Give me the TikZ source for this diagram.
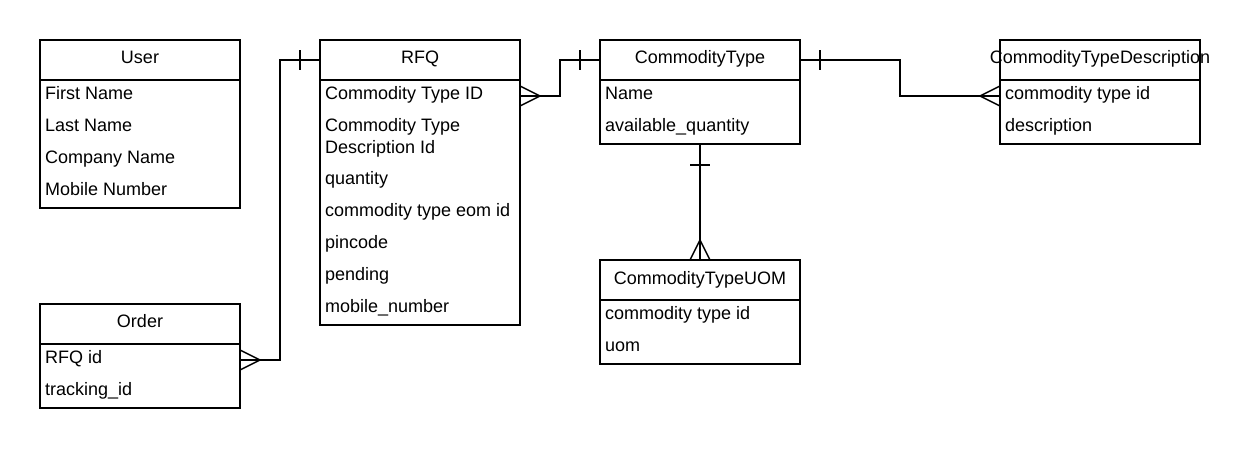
\documentclass[tikz,border=0pt]{standalone}
\usepackage{fontspec}
\setmainfont{Liberation Sans}
\pgfdeclarelayer{edgelayer}
\pgfdeclarelayer{nodelayer}
\pgfsetlayers{edgelayer,nodelayer,main}
\tikzstyle{none}=[inner sep=0pt]
\tikzstyle{title}=[inner sep=0pt,anchor=base,font=\fontsize{18}{22}\selectfont]
\tikzstyle{field}=[inner sep=0pt,anchor=base west,font=\fontsize{18}{22}\selectfont]
\tikzstyle{simple}=[-,draw=black,line width=1.5pt]
\begin{document}
\begin{tikzpicture}[x=40pt,y=40pt]
	\useasboundingbox (0,0) rectangle (31,-11.2);
	\begin{pgfonlayer}{nodelayer}
		\node [style=none] (0) at (1, -1) {};
		\node [style=none] (1) at (6, -5.2) {};
		\node [style=none] (2) at (1, -2) {};
		\node [style=none] (3) at (6, -2) {};
		\node [style=none] (4) at (1, -7.6) {};
		\node [style=none] (5) at (6, -10.2) {};
		\node [style=none] (6) at (1, -8.6) {};
		\node [style=none] (7) at (6, -8.6) {};
		\node [style=none] (8) at (8, -1) {};
		\node [style=none] (9) at (13, -8.125) {};
		\node [style=none] (10) at (8, -2) {};
		\node [style=none] (11) at (13, -2) {};
		\node [style=none] (12) at (15, -1) {};
		\node [style=none] (13) at (20, -3.6) {};
		\node [style=none] (14) at (15, -2) {};
		\node [style=none] (15) at (20, -2) {};
		\node [style=none] (16) at (25, -1) {};
		\node [style=none] (17) at (30, -3.6) {};
		\node [style=none] (18) at (25, -2) {};
		\node [style=none] (19) at (30, -2) {};
		\node [style=none] (20) at (15, -6.5) {};
		\node [style=none] (21) at (20, -9.1) {};
		\node [style=none] (22) at (15, -7.5) {};
		\node [style=none] (23) at (20, -7.5) {};
		\node [style=none] (24) at (6, -9) {};
		\node [style=none] (25) at (7, -9) {};
		\node [style=none] (26) at (7, -1.5) {};
		\node [style=none] (27) at (8, -1.5) {};
		\node [style=none] (28) at (6, -8.75) {};
		\node [style=none] (29) at (6, -9.25) {};
		\node [style=none] (30) at (6.5, -9) {};
		\node [style=none] (31) at (7.5, -1.25) {};
		\node [style=none] (32) at (7.5, -1.75) {};
		\node [style=none] (33) at (13, -2.4) {};
		\node [style=none] (34) at (14, -2.4) {};
		\node [style=none] (35) at (14, -1.5) {};
		\node [style=none] (36) at (15, -1.5) {};
		\node [style=none] (37) at (13, -2.15) {};
		\node [style=none] (38) at (13, -2.65) {};
		\node [style=none] (39) at (13.5, -2.4) {};
		\node [style=none] (40) at (14.5, -1.25) {};
		\node [style=none] (41) at (14.5, -1.75) {};
		\node [style=none] (42) at (20, -1.5) {};
		\node [style=none] (43) at (22.5, -1.5) {};
		\node [style=none] (44) at (22.5, -2.4) {};
		\node [style=none] (45) at (25, -2.4) {};
		\node [style=none] (46) at (25, -2.15) {};
		\node [style=none] (47) at (25, -2.65) {};
		\node [style=none] (48) at (24.5, -2.4) {};
		\node [style=none] (49) at (20.5, -1.25) {};
		\node [style=none] (50) at (20.5, -1.75) {};
		\node [style=none] (51) at (17.5, -3.6) {};
		\node [style=none] (52) at (17.5, -6.5) {};
		\node [style=none] (53) at (17.25, -6.5) {};
		\node [style=none] (54) at (17.75, -6.5) {};
		\node [style=none] (55) at (17.5, -6) {};
		\node [style=none] (56) at (17.25, -4.125) {};
		\node [style=none] (57) at (17.75, -4.125) {};
		\node [style=title] (58) at (3.5, -1.5875) {User};
		\node [style=field] (59) at (1.125, -2.4875) {First Name};
		\node [style=field] (60) at (1.125, -3.2875) {Last Name};
		\node [style=field] (61) at (1.125, -4.0875) {Company Name};
		\node [style=field] (62) at (1.125, -4.8875) {Mobile Number};
		\node [style=title] (63) at (3.5, -8.1875) {Order};
		\node [style=field] (64) at (1.125, -9.0875) {RFQ id};
		\node [style=field] (65) at (1.125, -9.8875) {tracking\_id};
		\node [style=title] (66) at (10.5, -1.5875) {RFQ};
		\node [style=field] (67) at (8.125, -2.4875) {Commodity Type ID};
		\node [style=field] (68) at (8.125, -3.2875) {Commodity Type};
		\node [style=field] (69) at (8.125, -3.8375) {Description Id};
		\node [style=field] (70) at (8.125, -4.6125) {quantity};
		\node [style=field] (71) at (8.125, -5.4125) {commodity type eom id};
		\node [style=field] (72) at (8.125, -6.2125) {pincode};
		\node [style=field] (73) at (8.125, -7.0125) {pending};
		\node [style=field] (74) at (8.125, -7.8125) {mobile\_number};
		\node [style=title] (75) at (17.5, -1.5875) {CommodityType};
		\node [style=field] (76) at (15.125, -2.4875) {Name};
		\node [style=field] (77) at (15.125, -3.2875) {available\_quantity};
		\node [style=title] (78) at (27.5, -1.5875) {CommodityTypeDescription};
		\node [style=field] (79) at (25.125, -2.4875) {commodity type id};
		\node [style=field] (80) at (25.125, -3.2875) {description};
		\node [style=title] (81) at (17.5, -7.1125) {CommodityTypeUOM};
		\node [style=field] (82) at (15.125, -7.9875) {commodity type id};
		\node [style=field] (83) at (15.125, -8.7875) {uom};
	\end{pgfonlayer}
	\begin{pgfonlayer}{edgelayer}
		\draw [style=simple] (0.center) rectangle (1.center);
		\draw [style=simple] (2.center) to (3.center);
		\draw [style=simple] (4.center) rectangle (5.center);
		\draw [style=simple] (6.center) to (7.center);
		\draw [style=simple] (8.center) rectangle (9.center);
		\draw [style=simple] (10.center) to (11.center);
		\draw [style=simple] (12.center) rectangle (13.center);
		\draw [style=simple] (14.center) to (15.center);
		\draw [style=simple] (16.center) rectangle (17.center);
		\draw [style=simple] (18.center) to (19.center);
		\draw [style=simple] (20.center) rectangle (21.center);
		\draw [style=simple] (22.center) to (23.center);
		\draw [style=simple] (24.center) to (25.center) to (26.center) to (27.center);
		\draw [style=simple] (28.center) to (30.center) to (29.center);
		\draw [style=simple] (31.center) to (32.center);
		\draw [style=simple] (33.center) to (34.center) to (35.center) to (36.center);
		\draw [style=simple] (37.center) to (39.center) to (38.center);
		\draw [style=simple] (40.center) to (41.center);
		\draw [style=simple] (42.center) to (43.center) to (44.center) to (45.center);
		\draw [style=simple] (46.center) to (48.center) to (47.center);
		\draw [style=simple] (49.center) to (50.center);
		\draw [style=simple] (51.center) to (52.center);
		\draw [style=simple] (53.center) to (55.center) to (54.center);
		\draw [style=simple] (56.center) to (57.center);
	\end{pgfonlayer}
\end{tikzpicture}
\end{document}
